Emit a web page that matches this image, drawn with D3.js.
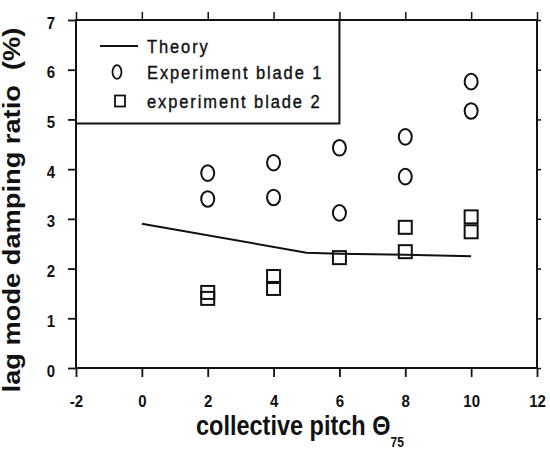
<!DOCTYPE html>
<meta charset="utf-8">
<head>
  <title>Lag mode damping ratio</title>
  <style>
    body { margin: 0; background: #fff; }
    text { font-family: "Liberation Sans", Arial, Helvetica, sans-serif; fill: #111; }
  </style>
</head>
<body>
<script src="https://cdn.jsdelivr.net/npm/d3@7"></script>
<script>
var WIDTH = 550,
    HEIGHT = 451,
    STRETCH = 1.16;   // the scan is a little taller than wide

// x ticks and y ticks
var xTicks = [-2, 0, 2, 4, 6, 8, 10, 12];
var yTicks = [0, 1, 2, 3, 4, 5, 6, 7];

// Theory curve
var theoryPitch = [0, 5, 6, 8, 10];
var theoryDamping = [2.90, 2.32, 2.30, 2.28, 2.25];

// Experiment blade 1 (circles)
var blade1Pitch = [2, 2, 4, 4, 6, 6, 8, 8, 10, 10];
var blade1Damping = [3.92, 3.40, 4.13, 3.43, 4.43, 3.12, 4.65, 3.85, 5.76, 5.17];

// experiment blade 2 (squares)
var blade2Pitch = [2, 2, 4, 4, 6, 8, 8, 10, 10];
var blade2Damping = [1.52, 1.40, 1.84, 1.60, 2.22, 2.83, 2.34, 3.04, 2.74];

var legendLabels = ["Theory", "Experiment blade 1", "experiment blade 2"];

var margin = {left: 76, right: 13, top: 20, bottom: 83};
var plotW = WIDTH - margin.left - margin.right,
    plotH = HEIGHT - margin.top - margin.bottom;

var x = d3.scaleLinear().domain([-2, 12]).range([margin.left, margin.left + plotW]);
var y = d3.scaleLinear().domain([0, 7]).range([margin.top + plotH, margin.top]);

var svg = d3.select("body").append("svg")
    .attr("width", WIDTH)
    .attr("height", HEIGHT);

// bottom axis with labels
var gx = svg.append("g")
    .attr("transform", "translate(0," + y(0) + ")")
    .call(d3.axisBottom(x).tickValues(xTicks).tickSize(9).tickSizeOuter(0)
      .tickFormat(function(d) { return d; }));
gx.select(".domain").remove();
gx.selectAll("line").attr("stroke", "#111").attr("stroke-width", 1.8);
gx.selectAll("text")
    .attr("y", 0).attr("dy", null)
    .attr("transform", "translate(0,39) scale(1," + STRETCH + ")")
    .style("font-size", "15px").style("font-weight", "bold").attr("fill", "#111");

// top axis, ticks only
var gxt = svg.append("g")
    .attr("transform", "translate(0," + y(7) + ")")
    .call(d3.axisTop(x).tickValues(xTicks).tickSize(8).tickSizeOuter(0).tickFormat(""));
gxt.select(".domain").remove();
gxt.selectAll("line").attr("stroke", "#111").attr("stroke-width", 1.5);

// left axis with labels
var gy = svg.append("g")
    .attr("transform", "translate(" + x(-2) + ",0)")
    .call(d3.axisLeft(y).tickValues(yTicks).tickSize(8).tickSizeOuter(0)
      .tickFormat(function(d) { return d; }));
gy.select(".domain").remove();
gy.selectAll("line").attr("stroke", "#111").attr("stroke-width", 1.8);
gy.selectAll("text")
    .attr("x", 0).attr("dy", null).attr("y", 0)
    .attr("text-anchor", "end")
    .attr("transform", "translate(-21,8) scale(1," + STRETCH + ")")
    .style("font-size", "15px").style("font-weight", "bold").attr("fill", "#111");

// right axis, ticks only
var gyr = svg.append("g")
    .attr("transform", "translate(" + x(12) + ",0)")
    .call(d3.axisRight(y).tickValues(yTicks).tickSize(4).tickSizeOuter(0).tickFormat(""));
gyr.select(".domain").remove();
gyr.selectAll("line").attr("stroke", "#111").attr("stroke-width", 1.5);

// frame
svg.append("rect")
    .attr("x", x(-2)).attr("y", y(7))
    .attr("width", x(12) - x(-2)).attr("height", y(0) - y(7))
    .attr("fill", "none").attr("stroke", "#111").attr("stroke-width", 2);

// theory line
var line = d3.line()
    .x(function(d) { return x(d[0]); })
    .y(function(d) { return y(d[1]); });

svg.append("path")
    .datum(d3.zip(theoryPitch, theoryDamping))
    .attr("d", line)
    .attr("fill", "none").attr("stroke", "#111").attr("stroke-width", 2);

// blade 1 circles
svg.selectAll(".b1")
    .data(d3.zip(blade1Pitch, blade1Damping))
  .enter().append("ellipse")
    .attr("class", "b1")
    .attr("cx", function(d) { return x(d[0]); })
    .attr("cy", function(d) { return y(d[1]); })
    .attr("rx", 6.5).attr("ry", 7.8)
    .attr("fill", "none").attr("stroke", "#111").attr("stroke-width", 2);

// blade 2 squares
var SQ = 13;
svg.selectAll(".b2")
    .data(d3.zip(blade2Pitch, blade2Damping))
  .enter().append("rect")
    .attr("class", "b2")
    .attr("x", function(d) { return x(d[0]) - SQ / 2; })
    .attr("y", function(d) { return y(d[1]) - SQ / 2; })
    .attr("width", SQ).attr("height", SQ)
    .attr("fill", "none").attr("stroke", "#111").attr("stroke-width", 2);

// legend
var legendRight = x(6), legendBottom = y(4.92);
svg.append("path")
    .attr("d", "M" + x(-2) + "," + legendBottom + "H" + legendRight + "V" + y(7))
    .attr("fill", "none").attr("stroke", "#111").attr("stroke-width", 2);

var rowY = [46, 72, 101];
svg.append("line")
    .attr("x1", 100).attr("x2", 138)
    .attr("y1", rowY[0]).attr("y2", rowY[0])
    .attr("stroke", "#111").attr("stroke-width", 2);
svg.append("ellipse")
    .attr("cx", 117).attr("cy", rowY[1]).attr("rx", 4.5).attr("ry", 6.8)
    .attr("fill", "none").attr("stroke", "#111").attr("stroke-width", 1.8);
svg.append("rect")
    .attr("x", 115).attr("y", rowY[2] - 5.5).attr("width", 10).attr("height", 11)
    .attr("fill", "none").attr("stroke", "#111").attr("stroke-width", 1.8);

svg.selectAll(".leg")
    .data(legendLabels)
  .enter().append("text")
    .attr("class", "leg")
    .attr("transform", function(d, i) {
      return "translate(147," + (rowY[i] + 7) + ") scale(1," + STRETCH + ")";
    })
    .style("font-size", "16.5px")
    .style("letter-spacing", "1.9px")
    .attr("stroke", "#111").attr("stroke-width", 0.35)
    .text(function(d) { return d; });

// x axis title
var xt = svg.append("text")
    .attr("transform", "translate(196,435) scale(1," + STRETCH + ")")
    .style("font-size", "23.5px").style("font-weight", "bold");
xt.append("tspan").text("collective pitch \u0398");
xt.append("tspan").attr("dy", 10.5).style("font-size", "12px").text("75");

// y axis title
svg.append("text")
    .attr("transform", "translate(20,210) rotate(-90) scale(" + STRETCH + ",1)")
    .attr("text-anchor", "middle")
    .style("font-size", "23.5px").style("font-weight", "bold")
    .attr("xml:space", "preserve")
    .style("white-space", "pre")
    .text("lag mode damping ratio  (%)");
</script>
</body>
